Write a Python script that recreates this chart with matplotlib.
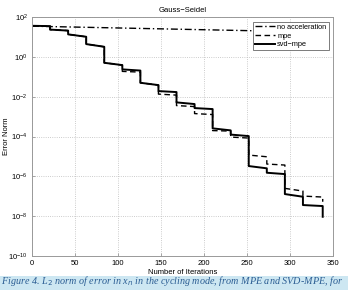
import numpy as np
import matplotlib
matplotlib.use("Agg")
import matplotlib.pyplot as plt
from matplotlib.patches import Rectangle

# cycle boundaries (iterations)
cycle_edges = [0, 21, 42, 63, 84, 105, 126, 147, 168, 189, 210, 231, 252, 273, 294, 315, 338]

# svd-mpe: error at start and end of each cycle
svd_start = [36.6, 23.6, 13.6, 4.42, 0.508, 0.237, 0.0504, 0.0193, 5.22e-3, 2.70e-3,
             2.59e-4, 1.26e-4, 3.31e-6, 1.53e-6, 1.30e-7, 3.65e-8]
svd_end = [35.3, 21.0, 10.3, 3.23, 0.389, 0.207, 0.0385, 0.0172, 4.30e-3, 2.41e-3,
           2.05e-4, 1.06e-4, 2.55e-6, 1.31e-6, 9.53e-8, 3.25e-8]
svd_final = 9.4e-9

# mpe
mpe_start = [36.6, 23.6, 13.6, 4.42, 0.508, 0.188, 0.0504, 0.0136, 3.61e-3, 1.43e-3,
             2.00e-4, 9.46e-5, 1.18e-5, 4.18e-6, 2.51e-7, 1.03e-7]
mpe_end = [35.3, 21.0, 10.3, 3.23, 0.389, 0.173, 0.0385, 0.0121, 3.21e-3, 1.28e-3,
           1.89e-4, 8.43e-5, 9.70e-6, 3.72e-6, 1.84e-7, 9.20e-8]
mpe_final = 5.35e-8

# no acceleration
plain_iter = [0, 338]
plain_err = [35.0, 17.5]


def staircase(edges, starts, ends, final):
    xs, ys = [], []
    for i in range(len(starts)):
        xs += [edges[i], edges[i + 1]]
        ys += [starts[i], ends[i]]
    xs.append(edges[-1])
    ys.append(final)
    return xs, ys


plt.rcParams["font.family"] = ["Liberation Sans", "DejaVu Sans"]

fig = plt.figure(figsize=(3.48, 2.90), dpi=100)
ax = fig.add_axes([0.092, 0.117, 0.865, 0.824])

ax.semilogy(plain_iter, plain_err, color="black", linestyle="-.", linewidth=1.0,
            label="no acceleration", dashes=(5, 2, 1, 2))
x, y = staircase(cycle_edges, mpe_start, mpe_end, mpe_final)
ax.semilogy(x, y, color="black", linestyle="--", linewidth=1.0, label="mpe", dashes=(4, 2.5))
x, y = staircase(cycle_edges, svd_start, svd_end, svd_final)
ax.semilogy(x, y, color="black", linestyle="-", linewidth=1.4, label="svd\u2212mpe")

ax.set_xlim(0, 350)
ax.set_ylim(1e-10, 1e2)
ax.set_xticks([0, 50, 100, 150, 200, 250, 300, 350])
ax.set_yticks([1e2, 1e0, 1e-2, 1e-4, 1e-6, 1e-8, 1e-10])
ax.minorticks_off()
ax.grid(True, linestyle=":", color="#bbbbbb", linewidth=0.6)
ax.tick_params(direction="in", labelsize=5.5, length=2, width=0.5, color="#888888", pad=3)
for s in ax.spines.values():
    s.set_color("#999999")
    s.set_linewidth(0.7)

ax.set_title("Gauss\u2212Seidel", fontsize=5.5, pad=4)
ax.set_xlabel("Number of Iterations", fontsize=5.5, labelpad=1)
ax.set_ylabel("Error Norm", fontsize=5.5)
ax.yaxis.set_label_coords(-0.072, 0.5)

leg = ax.legend(loc="upper right", fontsize=5.3, handlelength=2.6, handletextpad=0.35,
                borderpad=0.3, labelspacing=0.2, fancybox=False, framealpha=1,
                borderaxespad=0.6)
leg.get_frame().set_edgecolor("#666666")
leg.get_frame().set_linewidth(0.6)

# caption band
fig.patches.append(Rectangle((0, 0), 1, 14 / 290, transform=fig.transFigure,
                             facecolor="#cde7f2", edgecolor="none", zorder=0))
fig.text(0.003, 0.006, "Figure 4. L$_2$ norm of error in x$_n$ in the cycling mode, from MPE and SVD-MPE, for",
         fontsize=7.3, family=["Liberation Serif", "DejaVu Serif"], style="italic",
         color="#2b5d93", ha="left", va="bottom")

fig.savefig("out.png", dpi=100)
